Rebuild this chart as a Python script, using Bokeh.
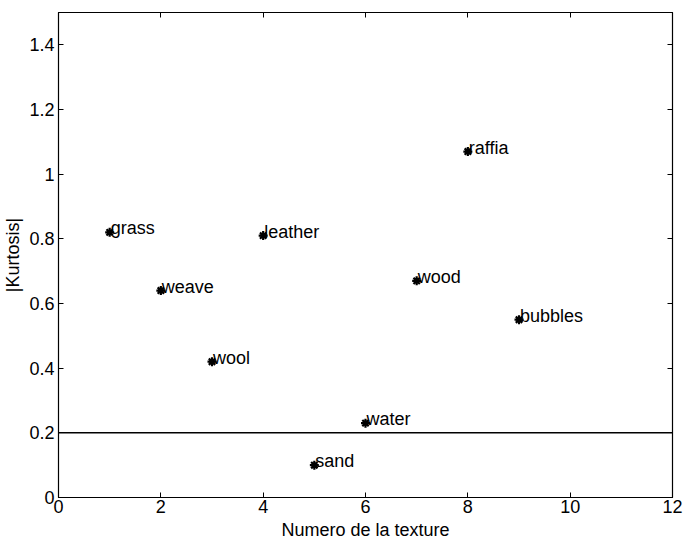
from bokeh.plotting import figure
from bokeh.models import ColumnDataSource, LinearAxis, Range1d, Span, FixedTicker
from bokeh.core.properties import value
from bokeh.embed import file_html
from bokeh.resources import INLINE

textures = [1, 2, 3, 4, 5, 6, 7, 8, 9]
kurtosis = [0.82, 0.64, 0.42, 0.81, 0.10, 0.23, 0.67, 1.07, 0.55]
names = ["grass", "weave", "wool", "leather", "sand", "water", "wood", "raffia", "bubbles"]
threshold = 0.2
x_ticks = [0, 2, 4, 6, 8, 10, 12]
y_ticks = [0, 0.2, 0.4, 0.6, 0.8, 1, 1.2, 1.4]

FONT = "Liberation Sans"
FS = "18px"

p = figure(width=684, height=543, output_backend="svg", toolbar_location=None,
           x_range=Range1d(0, 12), y_range=Range1d(0, 1.5),
           min_border_left=55, min_border_right=12, min_border_top=12, min_border_bottom=46)
p.xgrid.visible = False
p.ygrid.visible = False
p.outline_line_color = "black"
p.outline_line_width = 1.2

src = ColumnDataSource(dict(x=textures, y=kurtosis, name=names))
p.scatter("x", "y", source=src, marker="asterisk", size=9, line_color="black", line_width=2.2)
p.text("x", "y", text="name", source=src, x_offset=1, y_offset=-4,
       text_font=value(FONT), text_font_size=FS, text_baseline="middle",
       text_align="left", text_color="black")

p.add_layout(Span(location=threshold, dimension="width", line_color="black", line_width=1.5))

for ax in (p.xaxis[0], p.yaxis[0]):
    ax.major_tick_in = 5
    ax.major_tick_out = 0
    ax.minor_tick_line_color = None
    ax.axis_line_color = "black"
    ax.major_label_text_font = FONT
    ax.major_label_text_font_size = FS
    ax.major_label_text_color = "black"
    ax.axis_label_text_font = FONT
    ax.axis_label_text_font_size = FS
    ax.axis_label_text_font_style = "normal"
    ax.axis_label_text_color = "black"

p.xaxis[0].ticker = FixedTicker(ticks=x_ticks)
p.yaxis[0].ticker = FixedTicker(ticks=y_ticks)
p.xaxis[0].axis_label = "Numero de la texture"
p.yaxis[0].axis_label = "|Kurtosis|"
p.xaxis[0].axis_label_standoff = 4
p.yaxis[0].axis_label_standoff = 3
p.xaxis[0].major_label_standoff = 2
p.yaxis[0].major_label_standoff = 4

blank_x = {t: "" for t in x_ticks}
blank_y = {t: "" for t in y_ticks}
top = LinearAxis(ticker=FixedTicker(ticks=x_ticks), major_label_overrides=blank_x,
                 major_tick_in=5, major_tick_out=0, minor_tick_line_color=None,
                 major_label_standoff=0)
right = LinearAxis(ticker=FixedTicker(ticks=y_ticks), major_label_overrides=blank_y,
                   major_tick_in=5, major_tick_out=0, minor_tick_line_color=None,
                   major_label_standoff=0)
p.add_layout(top, "above")
p.add_layout(right, "right")
p.min_border_top = 12
p.min_border_right = 12

open("out.html", "w").write(file_html(p, INLINE))
